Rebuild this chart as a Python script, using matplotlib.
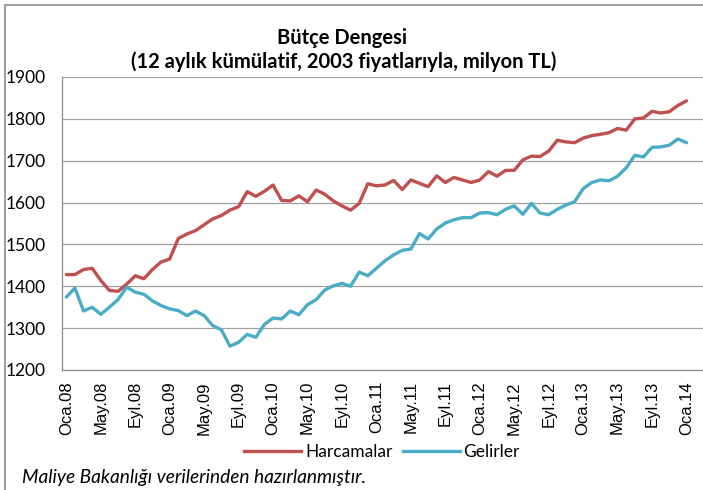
import matplotlib
matplotlib.use("Agg")
import matplotlib.pyplot as plt
from matplotlib.patches import Rectangle
from matplotlib.lines import Line2D

months = ["Oca", "Şub", "Mar", "Nis", "May", "Haz", "Tem", "Ağu", "Eyl", "Eki", "Kas", "Ara"]
categories = [f"{months[i % 12]}.{8 + i // 12:02d}" for i in range(73)]

harcamalar = [1428, 1428, 1440, 1443, 1414, 1390, 1388, 1405, 1425, 1418, 1440, 1458,
              1465, 1514, 1525, 1533, 1547, 1561, 1569, 1582, 1590, 1626, 1615, 1627,
              1642, 1605, 1604, 1616, 1602, 1630, 1620, 1604, 1592, 1582, 1598, 1645,
              1640, 1642, 1653, 1631, 1654, 1646, 1638, 1664, 1648, 1660, 1654, 1648,
              1654, 1674, 1663, 1677, 1677, 1702, 1711, 1710, 1723, 1749, 1745, 1743,
              1754, 1760, 1763, 1767, 1777, 1773, 1800, 1802, 1818, 1814, 1817, 1832,
              1843]
gelirler = [1374, 1396, 1341, 1350, 1333, 1350, 1368, 1398, 1386, 1381, 1365, 1354,
            1346, 1342, 1330, 1341, 1330, 1306, 1296, 1257, 1266, 1285, 1278, 1309,
            1324, 1322, 1341, 1332, 1356, 1368, 1391, 1401, 1407, 1400, 1434, 1425,
            1443, 1461, 1475, 1486, 1489, 1526, 1513, 1537, 1551, 1559, 1564, 1564,
            1575, 1576, 1571, 1584, 1592, 1572, 1598, 1575, 1571, 1584, 1594, 1602,
            1633, 1648, 1654, 1652, 1663, 1683, 1713, 1709, 1732, 1733, 1737, 1752,
            1743]
yticks = [1200, 1300, 1400, 1500, 1600, 1700, 1800, 1900]

W, H = 703, 490
fig = plt.figure(figsize=(W / 100, H / 100), dpi=100)

# outer frame
fig.add_artist(Rectangle((5 / W, -0.1), 1.2, (1 - 5 / H) + 0.1, transform=fig.transFigure,
                         fill=False, edgecolor="#8c8c8c", linewidth=1.2))

left, right, top, bottom = 62, 703, 77, 370
ax = fig.add_axes([left / W, 1 - bottom / H, (right - left) / W, (bottom - top) / H])

x = list(range(len(categories)))
red = "#C0504D"
blue = "#4BACC6"
ax.plot(x, harcamalar, color=red, lw=2.4, solid_joinstyle="round", solid_capstyle="round", zorder=3)
ax.plot(x, gelirler, color=blue, lw=2.4, solid_joinstyle="round", solid_capstyle="round", zorder=3)

ax.set_ylim(1200, 1900)
ax.set_yticks(yticks)
ax.set_xlim(-0.5, -0.5 + (right - left) / 8.614)
ax.set_xticks(x[::4])
ax.set_xticklabels(categories[::4], rotation=90, fontsize=12, family="Liberation Sans",
                   va="top", ha="center")
ax.tick_params(axis="x", length=0, pad=8)
ax.tick_params(axis="y", length=0, pad=12, labelsize=12.5)
for lab in ax.get_yticklabels():
    lab.set_family("Lato")

ax.grid(axis="y", color="#a0a0a0", lw=0.9)
ax.set_axisbelow(True)
for s in ["top", "right"]:
    ax.spines[s].set_visible(False)
for s in ["left", "bottom"]:
    ax.spines[s].set_color("#8c8c8c")
    ax.spines[s].set_linewidth(0.9)

fig.text(342 / W, 1 - 38 / H, "Bütçe Dengesi", ha="center", va="center",
         fontsize=14.5, fontweight="bold", family="Lato")
fig.text(344 / W, 1 - 62 / H, "(12 aylık kümülatif, 2003 fiyatlarıyla, milyon TL)", ha="center",
         va="center", fontsize=14.5, fontweight="bold", family="Lato")

handles = [Line2D([], [], color=red, lw=2.4), Line2D([], [], color=blue, lw=2.4)]
fig.legend(handles, ["Harcamalar", "Gelirler"], loc="center", bbox_to_anchor=(382 / W, 1 - 452 / H),
           ncol=2, frameon=False, prop={"family": "Lato", "size": 12.5}, handlelength=3.3,
           handletextpad=0.2, columnspacing=0.6)

fig.text(22 / W, 1 - 477 / H, "Maliye Bakanlığı verilerinden hazırlanmıştır.", ha="left",
         va="center", fontsize=13.8, style="italic", family="Lato")

fig.savefig("out.png", dpi=100)
